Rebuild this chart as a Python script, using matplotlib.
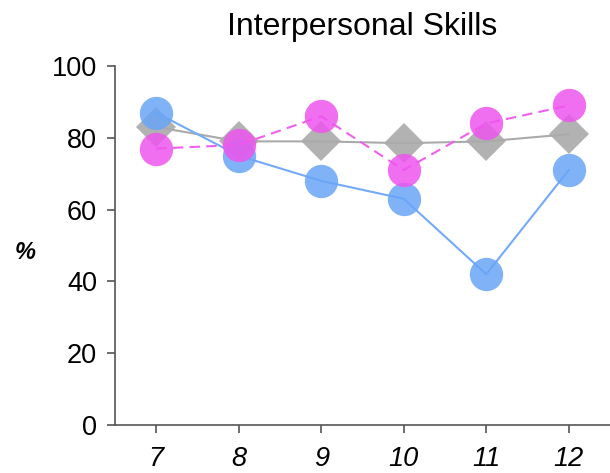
import matplotlib.pyplot as plt

grades = [7, 8, 9, 10, 11, 12]
blue_vals = [87, 75, 68, 63, 42, 71]
magenta_vals = [77, 78, 86, 71, 84, 89]
gray_vals = [83, 79, 79, 78.5, 79, 81]

plt.rcParams["font.family"] = ["Liberation Sans", "DejaVu Sans"]

fig = plt.figure(figsize=(6.1, 4.73), dpi=100)
ax = fig.add_axes([0.1885, 0.1015, 0.8115, 0.759])

# gray diamonds
ax.plot(grades, gray_vals, color="#aaaaaa", linewidth=1.5, zorder=2)
ax.plot(grades, gray_vals, linestyle="none", marker="D", markersize=20.5,
        color="#aaaaaa", alpha=0.9, markeredgewidth=0, zorder=2)

# blue circles
ax.plot(grades, blue_vals, color="#74aaf7", linewidth=1.5, zorder=3)
ax.plot(grades, blue_vals, linestyle="none", marker="o", markersize=24,
        color="#6aa5f7", alpha=0.85, markeredgewidth=0, zorder=3)

# magenta circles, dashed
ax.plot(grades, magenta_vals, color="#f060f0", linewidth=1.5,
        dashes=(5, 3), zorder=4)
ax.plot(grades, magenta_vals, linestyle="none", marker="o", markersize=24,
        color="#ee55ee", alpha=0.85, markeredgewidth=0, zorder=4)

ax.set_xlim(6.5, 12.5)
ax.set_ylim(0, 100)
ax.set_xticks(grades)
ax.set_xticklabels([str(g) for g in grades], fontstyle="italic")
ax.set_yticks([0, 20, 40, 60, 80, 100])

for side in ["top", "right"]:
    ax.spines[side].set_visible(False)
for side in ["left", "bottom"]:
    ax.spines[side].set_color("#555555")
    ax.spines[side].set_linewidth(1.2)

ax.tick_params(axis="both", labelsize=19.5, colors="#555555", labelcolor="black",
               length=6, width=1.2)
ax.tick_params(axis="x", pad=9)
ax.tick_params(axis="y", pad=7)

fig.text(0.594, 0.943, "Interpersonal Skills", fontsize=23,
         ha="center", va="center")
fig.text(0.041, 0.467, "%", fontsize=17, fontstyle="italic", fontweight="bold",
         ha="center", va="center")

fig.savefig("out.png", dpi=100)
